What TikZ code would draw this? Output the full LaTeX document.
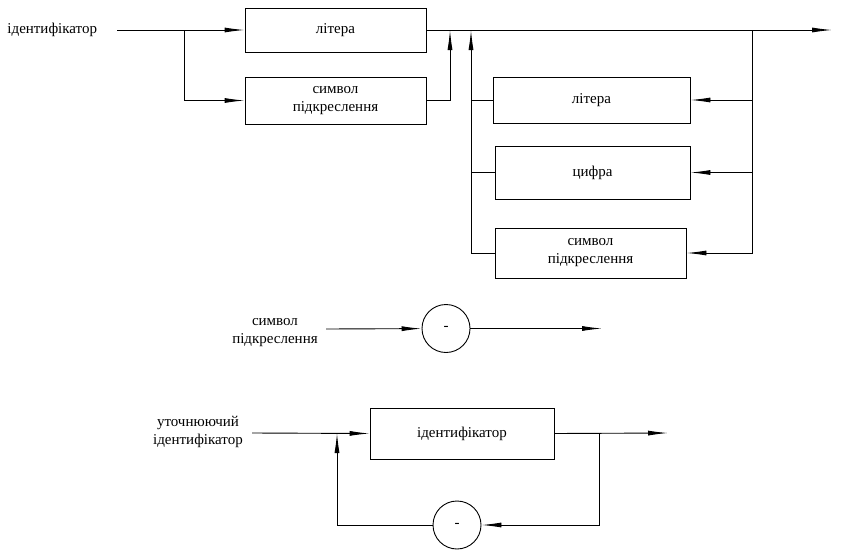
\documentclass[tikz,border=0pt]{standalone}
\usepackage{fontspec}
\setmainfont{Liberation Serif}
\usetikzlibrary{arrows.meta}

\tikzset{
  blok/.style={draw, line width=0.9pt, inner sep=0pt, align=center},
  kolo/.style={draw, circle, line width=0.9pt, minimum size=48pt, inner sep=0pt},
  napys/.style={align=center, inner sep=0pt},
  strl/.style={-{Latex[length=20pt,width=5pt]}},
}

\begin{document}
\begin{tikzpicture}[x=1pt, y=-1pt, line width=0.9pt, font=\fontsize{15}{18}\selectfont]
  \useasboundingbox (0,0) rectangle (846,549);

  % identifikator
  \node[napys, anchor=west] (nazva) at (7,30) {ідентифікатор};
  \coordinate (start) at (117,30);
  \coordinate (rozg) at (184,30);
  \node[blok, minimum width=181pt, minimum height=44pt] (lit) at (335.5,30) {літера};
  \node[blok, minimum width=181pt, minimum height=47pt] (pidk) at (335.5,100.5) {символ\\підкреслення};
  \coordinate (vgoru) at (450,30);
  \coordinate (petlia) at (471,30);
  \coordinate (pravo) at (752,30);
  \coordinate (kin) at (832,30);

  \node[blok, minimum width=197pt, minimum height=46pt] (lit2) at (591.5,100) {літера};
  \node[blok, minimum width=195pt, minimum height=53pt] (cyfra) at (592.5,172.5) {цифра};
  \node[blok, minimum width=191pt, minimum height=50pt] (pidk2) at (590.5,253) {символ\\підкреслення};

  \draw (start) -- (rozg);
  \draw[strl] (rozg) -- (lit.west);
  \draw[strl] (rozg) |- (pidk.west);
  \draw[strl] (lit.east) -- (kin);
  \draw[strl] (pidk.east) -| (vgoru);
  \draw[strl] (pravo) |- (pidk2.east);
  \draw[strl] (lit2.east -| pravo) -- (lit2.east);
  \draw[strl] (cyfra.east -| pravo) -- (cyfra.east);
  \draw[strl] (pidk2.west) -| (petlia);
  \draw (lit2.west) -- (lit2.west -| petlia);
  \draw (cyfra.west) -- (cyfra.west -| petlia);

  % symvol pidkreslennia
  \node[napys] (nazva2) at (275,333) {символ\\підкреслення};
  \coordinate (start2) at (326,329);
  \node[kolo] (ris) at (446,328.5) {-};
  \coordinate (kin2) at (602,328.5);
  \draw[strl] (start2) -- (ris);
  \draw[strl] (ris) -- (kin2);

  % utochniuiuchyi identyfikator
  \node[napys] (nazva3) at (198,432) {уточнюючий\\ідентифікатор};
  \coordinate (start3) at (252,433);
  \node[blok, minimum width=184pt, minimum height=51pt] (ident) at (462,433.5) {ідентифікатор};
  \coordinate (povern) at (337,433);
  \coordinate (rozg3) at (599,433);
  \coordinate (kin3) at (668,433);
  \node[kolo] (ris2) at (457,525) {-};

  \draw[strl] (start3) -- (ident.west);
  \draw[strl] (ident.east) -- (kin3);
  \draw[strl] (rozg3) |- (ris2.east);
  \draw[strl] (ris2.west) -| (povern);
\end{tikzpicture}
\end{document}
